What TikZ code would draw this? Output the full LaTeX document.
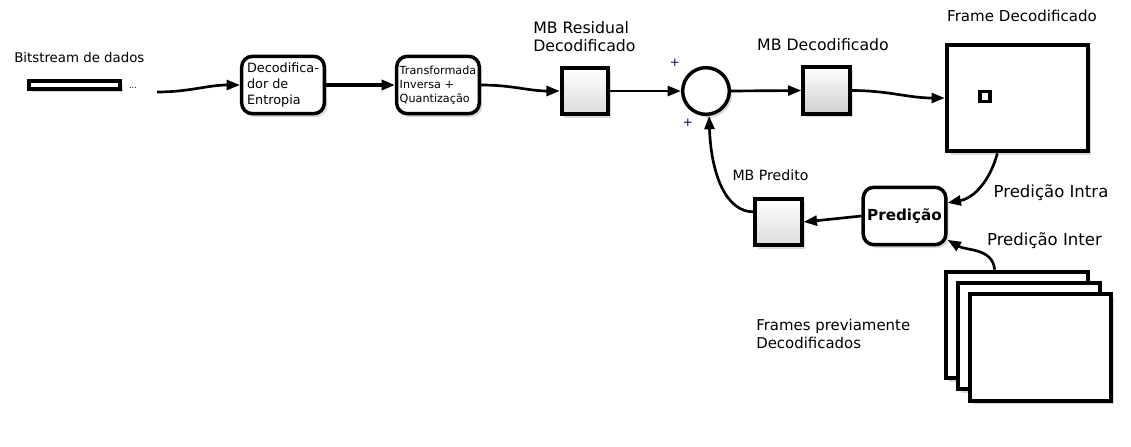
\documentclass[tikz,border=0pt]{standalone}
\usepackage{fontspec}
\setmainfont{DejaVu Sans}
\usetikzlibrary{positioning,arrows.meta,shadows}

\tikzset{
	shadowed/.style={drop shadow={opacity=0.3, shadow xshift=2pt, shadow yshift=-2.5pt}},
	procbox/.style={draw, line width=2.6pt, rounded corners=8pt, fill=white, shadowed,
		minimum width=62pt, minimum height=43pt, align=left, inner sep=1.5pt},
	mbbox/.style={draw, line width=2.8pt, top color=white, bottom color=gray!28, shadowed,
		minimum width=35pt, minimum height=35pt},
	framebox/.style={draw, line width=3pt, fill=white, shadowed,
		minimum width=106pt, minimum height=80pt},
	flow/.style={line width=2pt, -{Triangle[length=10pt,width=7.5pt]}},
	lbl/.style={font=\fontsize{10}{12}\selectfont, inner sep=0pt},
	plus/.style={text=blue!35!black, font=\fontsize{9}{10}\selectfont, inner sep=0pt}
}

\begin{document}
\begin{tikzpicture}[x=0.75pt,y=-0.75pt]
		\useasboundingbox (0,0) rectangle (1131,446);
		% entrada
		\node [lbl, anchor=west] (bslabel) at (14,58) {Bitstream de dados};
		\node [draw, line width=3pt, fill=white, shadowed, minimum width=68pt, minimum height=6pt, inner sep=0pt] (bitstream) at (74.5,85) {};
		\node [font=\fontsize{6}{6}\selectfont, inner sep=0pt] (dots) at (133,88) {...};
		\coordinate (bsend) at (157,92);
		% decodificacao
		\node [procbox, font=\fontsize{9.6}{12}\selectfont] (entropy) at (283,85) {Decodifica-\\dor de\\Entropia};
		\node [procbox, font=\fontsize{8.4}{10.5}\selectfont, inner sep=0.5pt] (transform) at (438,85) {Transformada\\Inversa +\\Quantização};
		\node [mbbox] (residual) at (585,91) {};
		\node [lbl, font=\fontsize{11.8}{14}\selectfont, anchor=north west, align=left] (reslabel) at (533,21) {MB Residual\\Decodificado};
		\node [draw, circle, line width=2.6pt, fill=white, shadowed, minimum size=35pt] (sum) at (706,91) {};
		\node [plus] (plustop) at (675,63) {+};
		\node [plus] (plusbot) at (688,123) {+};
		\node [mbbox, bottom color=gray!38] (decoded) at (826.5,90.5) {};
		\node [lbl, font=\fontsize{11.8}{14}\selectfont] (declabel) at (823,45) {MB Decodificado};
		\node [framebox] (frame) at (1017.5,98) {};
		\node [draw, line width=2.4pt, fill=white, minimum size=7.5pt, inner sep=0pt] (mbslot) at (985,96.5) {};
		\node [lbl, font=\fontsize{11.3}{13}\selectfont] (framelabel) at (1022,16) {Frame Decodificado};
		% predicao
		\node [procbox, font=\bfseries\fontsize{11.4}{13}\selectfont, align=center] (pred) at (904.5,216) {Predição};
		\node [mbbox] (predicted) at (778.5,222) {};
		\node [lbl, font=\fontsize{10.6}{12}\selectfont] (predlabel) at (770.5,175) {MB Predito};
		\node [lbl, font=\fontsize{12.4}{14}\selectfont] (intralabel) at (1051,193) {Predição Intra};
		\node [lbl, font=\fontsize{12.4}{14}\selectfont] (interlabel) at (1044.5,241) {Predição Inter};
		% frames anteriores
		\node [framebox] (prev1) at (1017,325) {};
		\node [framebox] (prev2) at (1029,336) {};
		\node [framebox] (prev3) at (1040.5,347.5) {};
		\node [lbl, font=\fontsize{11.2}{14}\selectfont, anchor=west, align=left] (prevlabel) at (756,334) {Frames previamente\\Decodificados};
		% conexoes
		\draw [flow] (bsend) to[out=0,in=180] (entropy.west);
		\draw [flow, line width=3pt] (entropy.east) -- (transform.west);
		\draw [flow] (transform.east) to[out=0,in=180] (residual.west);
		\draw [flow] (residual.east) -- (sum.west);
		\draw [flow] (sum.east) -- (decoded.west);
		\draw [flow] (decoded.east) to[out=0,in=180] (frame.west);
		\draw [flow] (frame.250) to[out=255,in=10] (pred.17);
		\draw [flow] (prev1.112) to[out=95,in=-30] (pred.-29);
		\draw [flow] (pred.west) -- (predicted.east);
		\draw [flow] (predicted.158) to[out=180,in=-88,out distance=20pt,in distance=45pt] (sum.-83);
\end{tikzpicture}
\end{document}
